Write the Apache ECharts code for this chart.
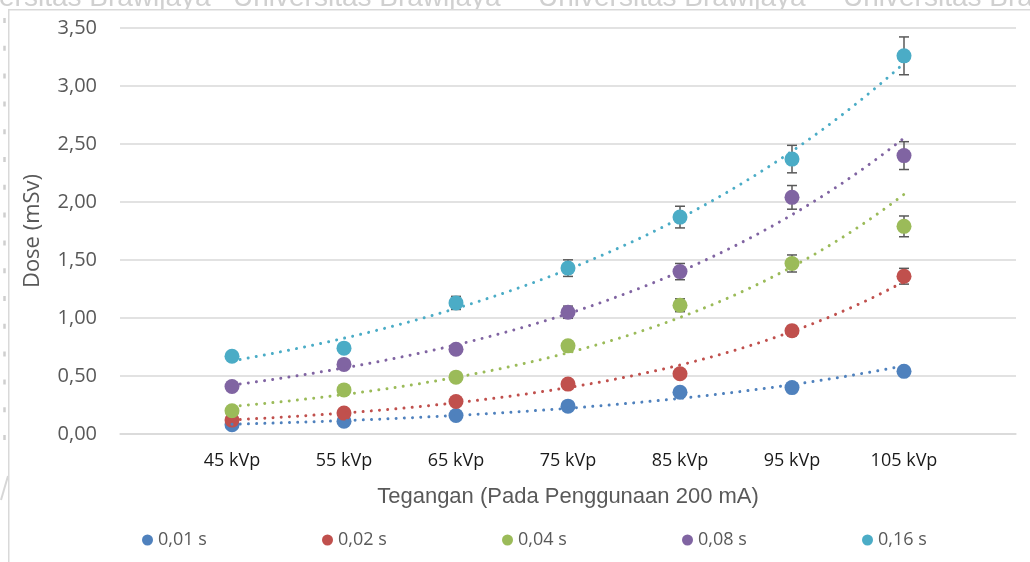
<!DOCTYPE html>
<html>
<head>
<meta charset="utf-8">
<script src="https://cdn.jsdelivr.net/npm/echarts@6/dist/echarts.min.js"></script>
<style>
  html, body { margin: 0; padding: 0; background: #ffffff; }
  #chart { width: 1030px; height: 562px; }
</style>
</head>
<body>
<div id="chart"></div>
<script>
// Tube voltage categories (x axis)
const categories = ['45 kVp', '55 kVp', '65 kVp', '75 kVp', '85 kVp', '95 kVp', '105 kVp'];

// Exposure times (legend entries)
const seriesNames = ['0,01 s', '0,02 s', '0,04 s', '0,08 s', '0,16 s'];
const seriesColors = ['#4F81BD', '#C0504D', '#9BBB59', '#8064A2', '#4BACC6'];

// Measured dose in mSv for each exposure time
const dose001 = [0.08, 0.11, 0.16, 0.24, 0.36, 0.40, 0.54];
const dose002 = [0.12, 0.18, 0.28, 0.43, 0.52, 0.89, 1.36];
const dose004 = [0.20, 0.38, 0.49, 0.76, 1.11, 1.47, 1.79];
const dose008 = [0.41, 0.60, 0.73, 1.05, 1.40, 2.04, 2.40];
const dose016 = [0.67, 0.74, 1.13, 1.43, 1.87, 2.37, 3.26];

// Y axis ticks
const yMin = 0, yMax = 3.5, yStep = 0.5;

// Error bars: percentage of the measured value
const ERROR_PCT = 0.05;

const doseSets = [dose001, dose002, dose004, dose008, dose016];

const FONT = '"Open Sans", "Noto Sans", sans-serif';

// Exponential trendline (least squares on ln y), y = a * e^(b x)
function expFit(values) {
  const n = values.length;
  const xs = values.map((_, i) => i + 1);
  const ls = values.map(v => Math.log(v));
  const mx = xs.reduce((s, x) => s + x, 0) / n;
  const ml = ls.reduce((s, l) => s + l, 0) / n;
  let sxy = 0, sxx = 0;
  for (let i = 0; i < n; i++) {
    sxy += (xs[i] - mx) * (ls[i] - ml);
    sxx += (xs[i] - mx) * (xs[i] - mx);
  }
  const b = sxy / sxx;
  const a = Math.exp(ml - b * mx);
  const pts = [];
  for (let k = 0; k <= 120; k++) {
    const x = 1 + (n - 1) * k / 120;
    pts.push([x, a * Math.exp(b * x)]);
  }
  return pts;
}

function errorBarSeries(values, idx) {
  return {
    type: 'custom',
    name: seriesNames[idx] + ' err',
    silent: true,
    z: 3,
    encode: { x: 0, y: [1, 2] },
    data: values.map((v, i) => [i + 1, v * (1 - ERROR_PCT), v * (1 + ERROR_PCT)]),
    renderItem: function (params, api) {
      const x = api.value(0);
      const lo = api.coord([x, api.value(1)]);
      const hi = api.coord([x, api.value(2)]);
      const hw = 5;
      const style = { stroke: '#595959', lineWidth: 1.5 };
      return {
        type: 'group',
        children: [
          { type: 'line', shape: { x1: lo[0], y1: lo[1], x2: hi[0], y2: hi[1] }, style: style },
          { type: 'line', shape: { x1: lo[0] - hw, y1: lo[1], x2: lo[0] + hw, y2: lo[1] }, style: style },
          { type: 'line', shape: { x1: hi[0] - hw, y1: hi[1], x2: hi[0] + hw, y2: hi[1] }, style: style }
        ]
      };
    }
  };
}

const series = [];
doseSets.forEach((vals, i) => {
  series.push(errorBarSeries(vals, i));
  series.push({
    type: 'scatter',
    name: seriesNames[i],
    data: vals.map((v, j) => [j + 1, v]),
    symbol: 'circle',
    symbolSize: 15,
    itemStyle: { color: seriesColors[i], opacity: 1 },
    z: 4,
    silent: true
  });
  series.push({
    type: 'line',
    name: seriesNames[i] + ' trend',
    data: expFit(vals),
    showSymbol: false,
    symbol: 'none',
    smooth: false,
    silent: true,
    z: 5,
    lineStyle: { color: seriesColors[i], width: 3, type: [0.01, 8.2], cap: 'round' }
  });
});

// Faint letterhead text behind the frame
const backdrop = [];
[-57, 233, 538, 843].forEach(x => {
  backdrop.push({
    type: 'text', left: x, top: -16, z: -20, silent: true,
    style: { text: 'Universitas Brawijaya', fill: '#d0d0d0', font: '28px "Liberation Sans", Arial, sans-serif' }
  });
});
backdrop.push({
  type: 'line', z: -20, silent: true,
  shape: { x1: 4.5, y1: 18, x2: 4.5, y2: 440 },
  style: { stroke: '#cfcfcf', lineWidth: 2.5, lineDash: [5, 22.8] }
});
backdrop.push({
  type: 'line', z: -20, silent: true,
  shape: { x1: 1, y1: 500, x2: 8, y2: 476 },
  style: { stroke: '#d6d6d6', lineWidth: 2 }
});
// White chart area with a thin frame
backdrop.push({
  type: 'rect', left: 8, top: 9, z: -10, silent: true,
  shape: { width: 1040, height: 600 },
  style: { fill: '#ffffff', stroke: '#d9d9d9', lineWidth: 1.5 }
});

// One legend block per entry, evenly spaced along the bottom
const legends = seriesNames.map((name, i) => ({
  data: [name],
  left: 142 + 180 * i,
  top: 531,
  icon: 'circle',
  itemWidth: 11,
  itemHeight: 11,
  padding: 0,
  selectedMode: false,
  textStyle: { fontFamily: FONT, fontSize: 18, color: '#595959' }
}));

const chart = echarts.init(document.getElementById('chart'), null, { renderer: 'canvas' });
chart.setOption({
  animation: false,
  backgroundColor: '#ffffff',
  textStyle: { fontFamily: FONT },
  graphic: backdrop,
  grid: { left: 120, right: 14, top: 28, bottom: 128, containLabel: false },
  legend: legends,
  xAxis: {
    type: 'value',
    min: 0,
    max: categories.length + 1,
    interval: 1,
    name: 'Tegangan (Pada Penggunaan 200 mA)',
    nameLocation: 'middle',
    nameGap: 52,
    nameTextStyle: { fontFamily: '"Liberation Sans", Arial, sans-serif', fontSize: 22, color: '#595959' },
    axisLine: { show: true, lineStyle: { color: '#d9d9d9', width: 1.5 } },
    axisTick: { show: false },
    splitLine: { show: false },
    axisLabel: {
      margin: 18,
      fontFamily: FONT,
      fontSize: 18,
      color: '#1a1a1a',
      formatter: v => categories[v - 1] || ''
    }
  },
  yAxis: {
    type: 'value',
    min: yMin,
    max: yMax,
    interval: yStep,
    name: 'Dose (mSv)',
    nameLocation: 'middle',
    nameGap: 76,
    nameTextStyle: { fontFamily: FONT, fontSize: 22, color: '#595959' },
    axisLine: { show: false },
    axisTick: { show: false },
    splitLine: { lineStyle: { color: '#d9d9d9', width: 1.5 } },
    axisLabel: {
      margin: 23,
      fontFamily: FONT,
      fontSize: 20,
      color: '#595959',
      formatter: v => v.toFixed(2).replace('.', ',')
    }
  },
  series: series
});
</script>
</body>
</html>
